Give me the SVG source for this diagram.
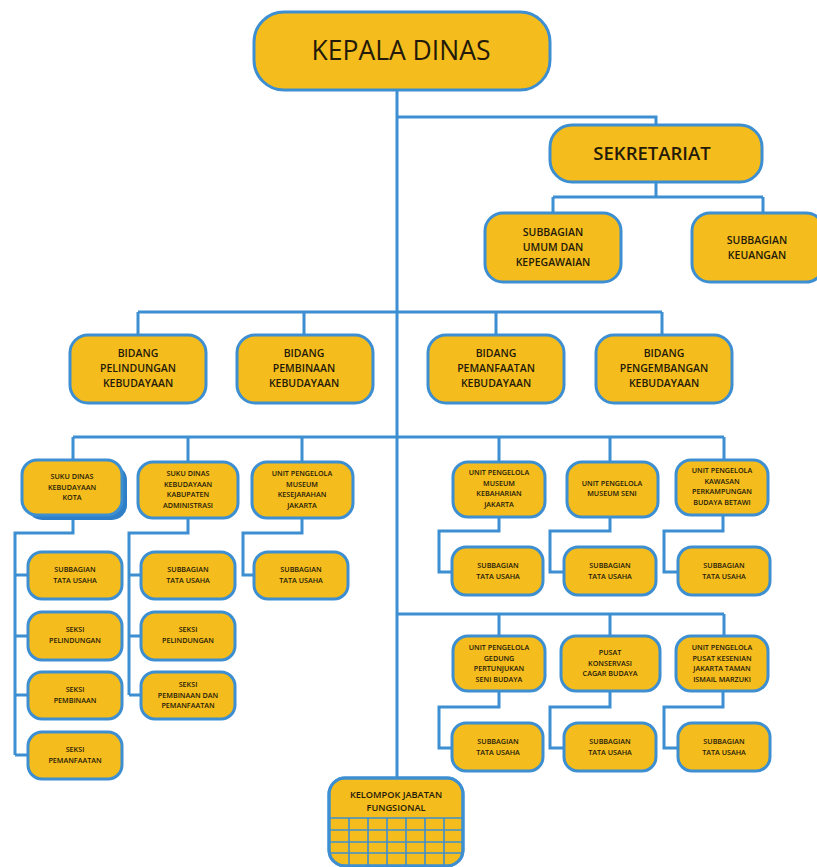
<svg xmlns="http://www.w3.org/2000/svg" width="817" height="867" viewBox="0 0 817 867">
<style>
.box{fill:#F4BC1C;stroke:#3D8FD1;stroke-width:3}
.ln{stroke:#3D8FD1;stroke-width:3;fill:none}
.gr{stroke:#3D8FD1;stroke-width:1.6;fill:none}
text{font-family:"Open Sans","Liberation Sans",sans-serif;fill:#241A0A;text-anchor:middle;font-weight:600}
.t1{font-size:26.5px;font-weight:500}
.t2{font-size:18.5px}
.t3{font-size:10.5px}
.t4{font-size:7.2px}
.t5{font-size:9.2px}
</style>
<defs>
<clipPath id="kc"><rect x="329" y="778" width="134" height="88" rx="16"/></clipPath>
</defs>
<g id="connectors">
<path class="ln" d="M397,90 V778"/>
<path class="ln" d="M397,117 H656 V125"/>
<path class="ln" d="M656,182 V197 M553,197 H763 M553,197 V213 M763,197 V213"/>
<path class="ln" d="M138,312 H662 M138,312 V335 M304,312 V335 M496,312 V335 M662,312 V335"/>
<path class="ln" d="M73,437 H724 M73,437 V460 M188,437 V462 M302,437 V462 M499,437 V462 M610,437 V462 M724,437 V460"/>
<path class="ln" d="M73,515 V533 H15 V755 M15,575 H28 M15,636 H28 M15,695 H28 M15,755 H28"/>
<path class="ln" d="M188,518 V533 H129 V695 M129,575 H141 M129,636 H141 M129,695 H141"/>
<path class="ln" d="M302,518 V533 H243 V575 H254"/>
<path class="ln" d="M499,517 V531 H439 V572 H452 M610,517 V531 H550 V572 H564 M723,515 V531 H664 V572 H678"/>
<path class="ln" d="M397,614 H724 M499,614 V636 M610,614 V636 M724,614 V636"/>
<path class="ln" d="M499,691 V707 H439 V748 H452 M610,691 V707 H550 V748 H564 M723,691 V707 H664 V748 H678"/>
</g>
<g id="kepala-dinas"><rect class="box" x="254" y="12" width="296" height="78" rx="30"/><text class="t1" x="401" y="60">KEPALA DINAS</text></g>
<g id="sekretariat"><rect class="box" x="550" y="125" width="212" height="57" rx="22"/><text class="t2" x="652" y="160">SEKRETARIAT</text></g>
<g id="sub-umum"><rect class="box" x="485" y="213" width="136" height="69" rx="18"/><text class="t3" x="553" y="236">SUBBAGIAN</text><text class="t3" x="553" y="251">UMUM DAN</text><text class="t3" x="553" y="266">KEPEGAWAIAN</text></g>
<g id="sub-keuangan"><rect class="box" x="692" y="213" width="132" height="69" rx="18"/><text class="t3" x="757" y="244">SUBBAGIAN</text><text class="t3" x="757" y="259">KEUANGAN</text></g>
<g id="bidang-pelindungan"><rect class="box" x="70" y="335" width="136" height="68" rx="18"/><text class="t3" x="138" y="357">BIDANG</text><text class="t3" x="138" y="372">PELINDUNGAN</text><text class="t3" x="138" y="387">KEBUDAYAAN</text></g>
<g id="bidang-pembinaan"><rect class="box" x="237" y="335" width="136" height="68" rx="18"/><text class="t3" x="304" y="357">BIDANG</text><text class="t3" x="304" y="372">PEMBINAAN</text><text class="t3" x="304" y="387">KEBUDAYAAN</text></g>
<g id="bidang-pemanfaatan"><rect class="box" x="428" y="335" width="136" height="68" rx="18"/><text class="t3" x="496" y="357">BIDANG</text><text class="t3" x="496" y="372">PEMANFAATAN</text><text class="t3" x="496" y="387">KEBUDAYAAN</text></g>
<g id="bidang-pengembangan"><rect class="box" x="596" y="335" width="136" height="68" rx="18"/><text class="t3" x="664" y="357">BIDANG</text><text class="t3" x="664" y="372">PENGEMBANGAN</text><text class="t3" x="664" y="387">KEBUDAYAAN</text></g>
<g id="suku-dinas-kota"><rect x="27" y="465" width="100" height="55" rx="15" fill="#2F7FC8"/><rect class="box" x="22" y="460" width="100" height="55" rx="15"/><text class="t4" x="72" y="479">SUKU DINAS</text><text class="t4" x="72" y="490">KEBUDAYAAN</text><text class="t4" x="72" y="500">KOTA</text></g>
<g id="suku-dinas-kab"><rect class="box" x="138" y="462" width="100" height="56" rx="15"/><text class="t4" x="188" y="476">SUKU DINAS</text><text class="t4" x="188" y="487">KEBUDAYAAN</text><text class="t4" x="188" y="497">KABUPATEN</text><text class="t4" x="188" y="508">ADMINISTRASI</text></g>
<g id="up-kesejarahan"><rect class="box" x="252" y="462" width="101" height="56" rx="15"/><text class="t4" x="302" y="476">UNIT PENGELOLA</text><text class="t4" x="302" y="487">MUSEUM</text><text class="t4" x="302" y="497">KESEJARAHAN</text><text class="t4" x="302" y="508">JAKARTA</text></g>
<g id="k1-tu"><rect class="box" x="28" y="552" width="94" height="47" rx="14"/><text class="t4" x="75" y="572">SUBBAGIAN</text><text class="t4" x="75" y="583">TATA USAHA</text></g>
<g id="k1-pel"><rect class="box" x="28" y="612" width="94" height="48" rx="14"/><text class="t4" x="75" y="632">SEKSI</text><text class="t4" x="75" y="643">PELINDUNGAN</text></g>
<g id="k1-pem"><rect class="box" x="28" y="672" width="94" height="47" rx="14"/><text class="t4" x="75" y="692">SEKSI</text><text class="t4" x="75" y="703">PEMBINAAN</text></g>
<g id="k1-man"><rect class="box" x="28" y="732" width="94" height="47" rx="14"/><text class="t4" x="75" y="752">SEKSI</text><text class="t4" x="75" y="763">PEMANFAATAN</text></g>
<g id="k2-tu"><rect class="box" x="141" y="552" width="94" height="47" rx="14"/><text class="t4" x="188" y="572">SUBBAGIAN</text><text class="t4" x="188" y="583">TATA USAHA</text></g>
<g id="k2-pel"><rect class="box" x="141" y="612" width="94" height="48" rx="14"/><text class="t4" x="188" y="632">SEKSI</text><text class="t4" x="188" y="643">PELINDUNGAN</text></g>
<g id="k2-pem"><rect class="box" x="141" y="672" width="94" height="47" rx="14"/><text class="t4" x="188" y="687">SEKSI</text><text class="t4" x="188" y="698">PEMBINAAN DAN</text><text class="t4" x="188" y="708">PEMANFAATAN</text></g>
<g id="k3-tu"><rect class="box" x="254" y="552" width="94" height="47" rx="14"/><text class="t4" x="301" y="572">SUBBAGIAN</text><text class="t4" x="301" y="583">TATA USAHA</text></g>
<g id="up-kebaharian"><rect class="box" x="453" y="462" width="92" height="55" rx="15"/><text class="t4" x="499" y="475">UNIT PENGELOLA</text><text class="t4" x="499" y="486">MUSEUM</text><text class="t4" x="499" y="496">KEBAHARIAN</text><text class="t4" x="499" y="507">JAKARTA</text></g>
<g id="up-seni"><rect class="box" x="567" y="462" width="91" height="55" rx="15"/><text class="t4" x="612" y="486">UNIT PENGELOLA</text><text class="t4" x="612" y="496">MUSEUM SENI</text></g>
<g id="up-betawi"><rect class="box" x="676" y="460" width="92" height="55" rx="15"/><text class="t4" x="722" y="473">UNIT PENGELOLA</text><text class="t4" x="722" y="484">KAWASAN</text><text class="t4" x="722" y="494">PERKAMPUNGAN</text><text class="t4" x="722" y="505">BUDAYA BETAWI</text></g>
<g id="r1-tu"><rect class="box" x="452" y="547" width="91" height="48" rx="14"/><text class="t4" x="498" y="568">SUBBAGIAN</text><text class="t4" x="498" y="579">TATA USAHA</text></g>
<g id="r2-tu"><rect class="box" x="564" y="547" width="92" height="48" rx="14"/><text class="t4" x="610" y="568">SUBBAGIAN</text><text class="t4" x="610" y="579">TATA USAHA</text></g>
<g id="r3-tu"><rect class="box" x="678" y="547" width="92" height="48" rx="14"/><text class="t4" x="724" y="568">SUBBAGIAN</text><text class="t4" x="724" y="579">TATA USAHA</text></g>
<g id="up-gedung"><rect class="box" x="453" y="636" width="92" height="55" rx="15"/><text class="t4" x="499" y="650">UNIT PENGELOLA</text><text class="t4" x="499" y="661">GEDUNG</text><text class="t4" x="499" y="671">PERTUNJUKAN</text><text class="t4" x="499" y="682">SENI BUDAYA</text></g>
<g id="pusat-konservasi"><rect class="box" x="561" y="636" width="99" height="55" rx="15"/><text class="t4" x="610" y="655">PUSAT</text><text class="t4" x="610" y="666">KONSERVASI</text><text class="t4" x="610" y="676">CAGAR BUDAYA</text></g>
<g id="up-tim"><rect class="box" x="676" y="636" width="92" height="55" rx="15"/><text class="t4" x="722" y="650">UNIT PENGELOLA</text><text class="t4" x="722" y="661">PUSAT KESENIAN</text><text class="t4" x="722" y="671">JAKARTA TAMAN</text><text class="t4" x="722" y="682">ISMAIL MARZUKI</text></g>
<g id="r4-tu"><rect class="box" x="452" y="723" width="91" height="48" rx="14"/><text class="t4" x="498" y="744">SUBBAGIAN</text><text class="t4" x="498" y="755">TATA USAHA</text></g>
<g id="r5-tu"><rect class="box" x="564" y="723" width="92" height="48" rx="14"/><text class="t4" x="610" y="744">SUBBAGIAN</text><text class="t4" x="610" y="755">TATA USAHA</text></g>
<g id="r6-tu"><rect class="box" x="678" y="723" width="92" height="48" rx="14"/><text class="t4" x="724" y="744">SUBBAGIAN</text><text class="t4" x="724" y="755">TATA USAHA</text></g>
<g id="kelompok-jabatan">
<rect class="box" x="329" y="778" width="134" height="88" rx="16"/>
<g clip-path="url(#kc)"><path class="gr" d="M329,818 H463 M329,830 H463 M329,842 H463 M329,853 H463 M349,818 V866 M368,818 V866 M387,818 V866 M406,818 V866 M425,818 V866 M444,818 V866"/></g>
<rect x="329" y="778" width="134" height="88" rx="16" fill="none" stroke="#3D8FD1" stroke-width="3"/>
<text class="t5" x="396" y="798">KELOMPOK JABATAN</text><text class="t5" x="396" y="811">FUNGSIONAL</text>
</g>
</svg>
